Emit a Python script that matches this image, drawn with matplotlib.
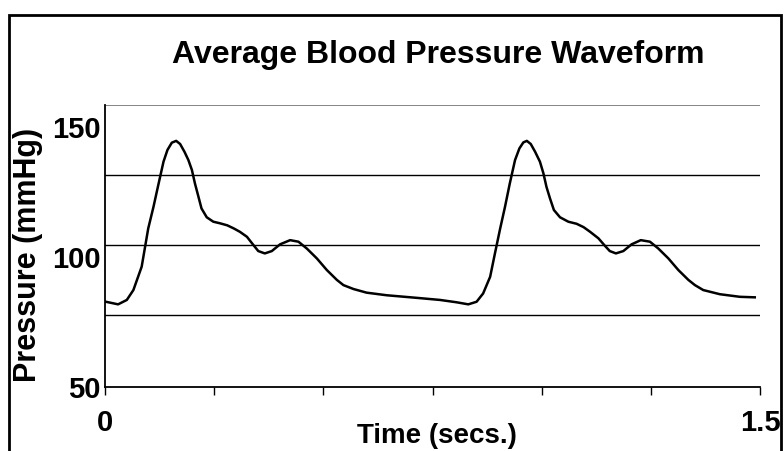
import matplotlib.pyplot as plt
from matplotlib.patches import Rectangle

plt.rcParams["font.family"] = ["Liberation Sans", "DejaVu Sans"]
plt.rcParams["font.weight"] = "bold"

# waveform (seconds, mmHg)
time_s = [0.002, 0.030, 0.050, 0.065, 0.084, 0.099, 0.111, 0.122, 0.134, 0.143,
          0.153, 0.163, 0.172, 0.182, 0.191, 0.199, 0.206, 0.214, 0.221, 0.233,
          0.248, 0.263, 0.280, 0.295, 0.309, 0.325, 0.340, 0.351, 0.366, 0.382,
          0.401, 0.424, 0.443, 0.462, 0.485, 0.508, 0.531, 0.546, 0.569, 0.599,
          0.645, 0.714, 0.767, 0.805, 0.832, 0.851, 0.866, 0.882, 0.893, 0.905,
          0.916, 0.927, 0.939, 0.949, 0.958, 0.966, 0.975, 0.985, 0.996, 1.004,
          1.011, 1.019, 1.028, 1.042, 1.061, 1.080, 1.096, 1.111, 1.130, 1.145,
          1.156, 1.170, 1.187, 1.206, 1.227, 1.248, 1.267, 1.290, 1.313, 1.336,
          1.351, 1.370, 1.408, 1.454, 1.488]
pressure = [82.8, 81.8, 83.5, 87.3, 96.3, 111.0, 119.3, 127.7, 136.7, 141.2,
            144.0, 144.7, 143.5, 140.5, 137.3, 133.5, 128.3, 123.2, 118.7, 115.3,
            113.6, 113.0, 112.2, 111.0, 109.7, 107.8, 104.6, 102.3, 101.4, 102.3,
            104.9, 106.5, 105.9, 103.3, 99.5, 95.0, 91.2, 89.2, 87.7, 86.3,
            85.3, 84.3, 83.5, 82.6, 81.8, 82.8, 86.0, 92.4, 101.4, 111.0,
            119.3, 128.3, 137.3, 141.8, 144.1, 144.7, 143.5, 140.5, 136.7, 132.2,
            127.0, 122.6, 118.1, 115.3, 113.6, 112.8, 111.5, 109.7, 107.2, 104.3,
            102.3, 101.4, 102.3, 104.9, 106.5, 105.9, 103.3, 99.5, 95.0, 91.2,
            89.2, 87.3, 85.7, 84.7, 84.5]

grid_levels = [77.7, 104.6, 131.5]
y_ticks = [50, 100, 150]
x_ticks = [0, 0.25, 0.5, 0.75, 1.0, 1.25, 1.5]
x_tick_labels = ["0", "", "", "", "", "", "1.5"]

fig = plt.figure(figsize=(7.84, 4.51), dpi=100)
ax = fig.add_axes([105 / 784, 1 - 387 / 451, 655 / 784, 282 / 451])

for g in grid_levels:
    ax.axhline(g, color="black", lw=1.0, zorder=1)
ax.axhline(158.5, color="#707070", lw=1.2, zorder=1)

ax.plot(time_s, pressure, color="black", lw=1.8, zorder=3)

ax.set_xlim(0, 1.5)
ax.set_ylim(50, 158.5)
ax.set_xticks(x_ticks)
ax.set_xticklabels(x_tick_labels)
ax.set_yticks(y_ticks)
ax.set_yticklabels([str(v) for v in y_ticks])
ax.tick_params(axis="x", direction="out", length=6, width=1, pad=10, labelsize=21)
ax.tick_params(axis="y", length=0, pad=3, labelsize=21)
for lab in ax.get_xticklabels() + ax.get_yticklabels():
    lab.set_fontweight("bold")

for side in ["top", "right"]:
    ax.spines[side].set_visible(False)
for side in ["left", "bottom"]:
    ax.spines[side].set_linewidth(1.3)

fig.text(438 / 784, 1 - 63 / 451, "Average Blood Pressure Waveform",
         ha="center", va="baseline", fontsize=23, fontweight="bold")
fig.text(437 / 784, 1 - 443 / 451, "Time (secs.)",
         ha="center", va="baseline", fontsize=20, fontweight="bold")
fig.text(28 / 784, 1 - 255 / 451, "Pressure (mmHg)", rotation=90,
         ha="center", va="center", fontsize=22, fontweight="bold")

# outer frame
fig.patches.append(Rectangle((9 / 784, -0.05), 772 / 784, 1 - 15 / 451 + 0.05,
                             transform=fig.transFigure, fill=False,
                             edgecolor="black", lw=2))

fig.savefig("out.png", dpi=100)
